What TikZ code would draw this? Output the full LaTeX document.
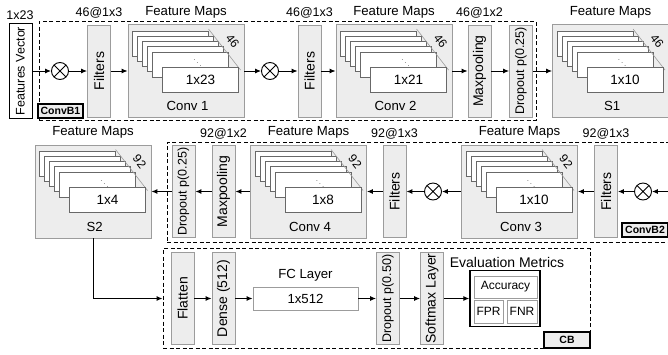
\documentclass[tikz,border=0pt]{standalone}
\usepackage{fontspec}
\setmainfont{Liberation Sans}
\usepackage{tikz}
\usetikzlibrary{arrows.meta}

\definecolor{boxgray}{HTML}{EDEDED}
\definecolor{edgegray}{HTML}{9C9C9C}
\definecolor{sheetgray}{HTML}{686868}

\newcommand{\vtxt}[1]{\rotatebox{90}{#1}}

\tikzset{
  fmbox/.style={draw=edgegray, fill=boxgray, line width=0.8pt, minimum width=116pt, minimum height=93pt, inner sep=0pt},
  sheet/.style={draw=sheetgray, fill=white, line width=0.6pt},
  layer/.style={draw=edgegray, fill=boxgray, line width=0.8pt, minimum width=23pt, minimum height=92pt, inner sep=0pt, font=\fontsize{14}{16}\selectfont},
  droplayer/.style={layer, font=\fontsize{12.5}{14}\selectfont},
  mult/.style={draw, circle, line width=0.9pt, minimum size=17pt, inner sep=0pt,
    path picture={\draw[line width=0.9pt] (path picture bounding box.north west) -- (path picture bounding box.south east)
      (path picture bounding box.north east) -- (path picture bounding box.south west);}},
  grp/.style={draw, dash pattern=on 4pt off 2.5pt, line width=0.9pt, inner sep=0pt},
  tag/.style={draw, fill=boxgray, line width=1.2pt, inner sep=0pt, font=\fontsize{10.5}{12}\selectfont\bfseries},
  conn/.style={-{Latex[length=6pt, width=5pt]}, line width=1pt},
  dim/.style={font=\fontsize{12.5}{14}\selectfont},
  whitebox/.style={draw=edgegray, fill=white, line width=0.8pt, inner sep=0pt},
}

\begin{document}
\begin{tikzpicture}[x=1pt, y=-1pt, font=\fontsize{13.2}{15}\selectfont]
  \useasboundingbox (0,0) rectangle (668,354);

  % dashed blocks
  \node[grp, minimum width=497pt, minimum height=99pt] (grpa) at (287.5,70.5) {};
  \node[grp, minimum width=533pt, minimum height=100pt] (grpb) at (433.5,192) {};
  \node[grp, minimum width=427pt, minimum height=100pt] (grpc) at (376.5,298.5) {};
  \node[tag, minimum width=45pt, minimum height=14pt] (taga) at (60.5,111) {ConvB1};
  \node[tag, minimum width=46pt, minimum height=14pt] (tagb) at (645,230) {ConvB2};
  \node[tag, minimum width=46pt, minimum height=16pt] (tagc) at (567,340) {CB};

  % feature maps
  \foreach \nm/\cx/\cy/\sz/\dep/\capt in {%
      conva/186/71/1x23/46/Conv 1,%
      convb/394/71/1x21/46/Conv 2,%
      sa/610.5/71/1x10/46/S1,%
      convc/519.5/191.5/1x10/92/Conv 3,%
      convd/308.5/191.5/1x8/92/Conv 4,%
      sb/93/191.5/1x4/92/S2}{
    \node[fmbox] (\nm) at (\cx,\cy) {};
    \node (\nm-t) at ([yshift=12pt]\nm.north) {Feature Maps};
    \begin{scope}[shift={(\nm.north west)}]
      \foreach \dx/\dy in {5/7,10/12,15/17,20/22,25/28}
        \draw[sheet] (\dx,\dy) rectangle ++(76,25);
      \draw[edgegray, line width=0.6pt] (81,5) -- (113,46);
      \node[sheet, minimum width=76pt, minimum height=25pt, inner sep=0pt, font=\fontsize{13.5}{15}\selectfont] (\nm-f) at (73,55.5) {\sz};
      \node[text=sheetgray, font=\fontsize{8}{9}\selectfont, inner sep=0pt] (\nm-d) at (70,36) {$\ddots$};
      \node[rotate=-52, inner sep=0pt, font=\fontsize{12}{14}\selectfont] (\nm-n) at (105,17) {\dep};
      \node (\nm-c) at (60,82) {\capt};
    \end{scope}
  }

  % row 1
  \node[draw, fill=white, line width=1pt, minimum width=23pt, minimum height=95pt, inner sep=0pt, font=\fontsize{12.5}{14}\selectfont] (fv) at (20.5,71) {\vtxt{Features Vector}};
  \node[dim] (fvdim) at (20,15) {1x23};
  \node[mult] (ca) at (60,71) {};
  \node[layer] (fa) at (99,71) {\vtxt{Filters}};
  \node[mult] (cb) at (270,71) {};
  \node[layer] (fb) at (309.5,71) {\vtxt{Filters}};
  \node[layer] (mpa) at (479.5,71) {\vtxt{Maxpooling}};
  \node[droplayer] (doa) at (521,71) {\vtxt{Dropout p(0.25)}};
  \node[dim] (fadim) at (fa |- 0,13) {46@1x3};
  \node[dim] (fbdim) at (fb |- 0,13) {46@1x3};
  \node[dim] (mpadim) at (mpa |- 0,13) {46@1x2};

  % row 2
  \node[mult] (cd) at (643,191.5) {};
  \node[layer] (fd) at (606,191.5) {\vtxt{Filters}};
  \node[mult] (cc) at (433,191.5) {};
  \node[layer] (fc) at (394.5,191.5) {\vtxt{Filters}};
  \node[layer] (mpb) at (223.5,191.5) {\vtxt{Maxpooling}};
  \node[droplayer] (dob) at (183.5,191.5) {\vtxt{Dropout p(0.25)}};
  \node[dim] (fddim) at (fd |- 0,134) {92@1x3};
  \node[dim] (fcdim) at (fc |- 0,134) {92@1x3};
  \node[dim] (mpbdim) at (mpb |- 0,134) {92@1x2};
  \coordinate (inb) at (672,191.5);

  % row 3
  \node[layer] (fl) at (182.5,298.5) {\vtxt{Flatten}};
  \node[layer] (de) at (223.5,298.5) {\vtxt{Dense (512)}};
  \node[whitebox, minimum width=105pt, minimum height=23pt] (fcl) at (305.5,298.5) {1x512};
  \node (fclt) at ([yshift=11pt]fcl.north) {FC Layer};
  \node[droplayer] (dc) at (388,298.5) {\vtxt{Dropout p(0.50)}};
  \node[layer] (sm) at (432,298.5) {\vtxt{Softmax Layer}};
  \node[draw, fill=white, line width=1.5pt, minimum width=70pt, minimum height=56pt, inner sep=0pt] (ev) at (505,298.5) {};
  \node[font=\fontsize{14}{16}\selectfont] (evt) at (507,262) {Evaluation Metrics};
  \node[whitebox, minimum width=63pt, minimum height=22pt, font=\fontsize{12}{14}\selectfont] (acc) at (505.5,287) {Accuracy};
  \node[whitebox, minimum width=29pt, minimum height=23pt, font=\fontsize{12}{14}\selectfont] (fpr) at (488.5,311.5) {FPR};
  \node[whitebox, minimum width=30pt, minimum height=23pt, font=\fontsize{12}{14}\selectfont] (fnr) at (522,311.5) {FNR};

  % connectors
  \draw[conn] (fv) -- (ca);
  \draw[conn] (ca) -- (fa);
  \draw[conn] (fa) -- (conva);
  \draw[conn] (conva) -- (cb);
  \draw[conn] (cb) -- (fb);
  \draw[conn] (fb) -- (convb);
  \draw[conn] (convb) -- (mpa);
  \draw[conn] (mpa) -- (doa);
  \draw[conn] (doa) -- (sa);
  \draw[conn] (inb) -- (cd);
  \draw[conn] (cd) -- (fd);
  \draw[conn] (fd) -- (convc);
  \draw[conn] (convc) -- (cc);
  \draw[conn] (cc) -- (fc);
  \draw[conn] (fc) -- (convd);
  \draw[conn] (convd) -- (mpb);
  \draw[conn] (mpb) -- (dob);
  \draw[conn] (dob) -- (sb);
  \draw[conn] (sb) |- (grpc);
  \draw[conn] (fl) -- (de);
  \draw[conn] (de) -- (fcl);
  \draw[conn] (fcl) -- (dc);
  \draw[conn] (dc) -- (sm);
  \draw[conn] (sm) -- (ev);
\end{tikzpicture}
\end{document}
